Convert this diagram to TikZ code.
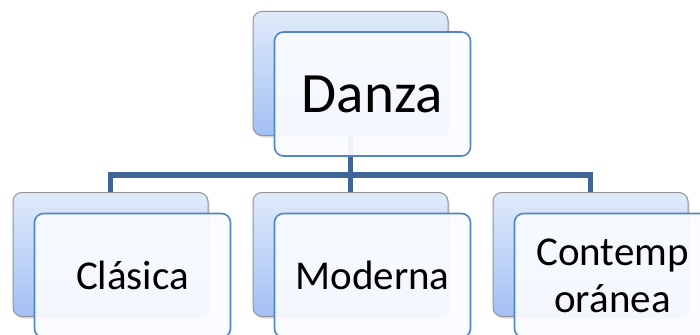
\documentclass[tikz,border=0pt]{standalone}
\usepackage{fontspec}
\setmainfont{Carlito}
\usetikzlibrary{shadows,calc}
\definecolor{conncol}{HTML}{3F6598}
\definecolor{frontborder}{HTML}{5384C4}
\definecolor{backtop}{HTML}{E0EAFA}
\definecolor{backbot}{HTML}{A2C0F4}
\definecolor{frontfill}{HTML}{F9FBFF}
\tikzset{
  backbox/.style={rounded corners=9pt, draw=gray!85, line width=1pt,
    top color=backtop, bottom color=backbot, minimum width=195pt, minimum height=124pt,
    drop shadow={opacity=0.25, shadow xshift=1.5pt, shadow yshift=-2pt}},
  frontbox/.style={rounded corners=9pt, draw=frontborder, line width=1.6pt,
    fill=frontfill, fill opacity=0.94, text opacity=1, minimum width=196pt, minimum height=124pt,
    align=center, inner sep=0pt},
  conn/.style={draw=conncol, line width=5.5pt},
  bigtext/.style={font=\fontsize{57}{66}\selectfont},
  smalltext/.style={font=\fontsize{41}{47}\selectfont}
}
\begin{document}
\begin{tikzpicture}[x=1pt,y=-1pt]
\useasboundingbox (0,0) rectangle (700,334);
\clip (0,0) rectangle (700,334);
% back boxes
\node[backbox] (tb) at (350.5,73.5) {};
\node[backbox] (b1) at (110.5,254.5) {};
\node[backbox] (b2) at (350.5,254.5) {};
\node[backbox] (b3) at (590.5,254.5) {};
% connectors
\coordinate (bus) at (350.5,175);
\draw[conn] (tb.south) |- (bus) -| (b1.north);
\draw[conn] (tb.south) |- (bus) -| (b2.north);
\draw[conn] (tb.south) |- (bus) -| (b3.north);
% front boxes
\node[frontbox,bigtext] (tf) at (372.5,94) {Danza};
\node[frontbox,smalltext] (f1) at (132.5,275.5) {Clásica};
\node[frontbox,smalltext] (f2) at (372.5,275.5) {Moderna};
\node[frontbox,smalltext] (f3) at (612.5,275.5) {Contemp\\oránea};
\end{tikzpicture}
\end{document}
